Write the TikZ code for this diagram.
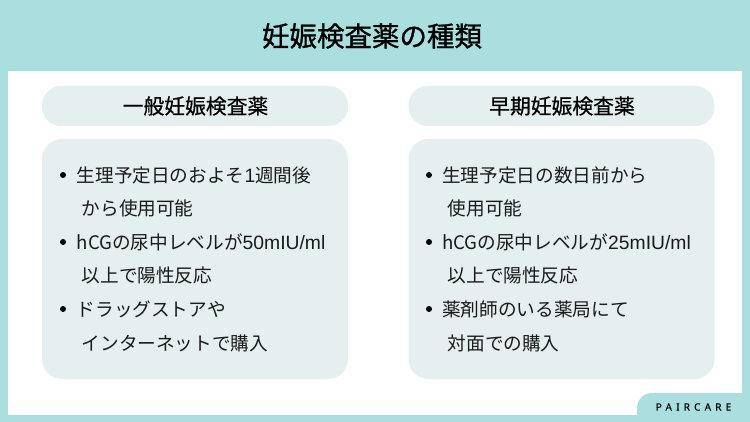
\documentclass[tikz,border=0pt]{standalone}
\usepackage{fontspec}
\setmainfont{Noto Sans CJK JP}
\newfontfamily\titlefont{Noto Sans CJK JP}[FakeBold=1.0]
\newfontfamily\headfont{Noto Sans CJK JP}[FakeBold=0.6]
\newfontfamily\brandfont{Noto Sans}[LetterSpace=42,FakeBold=0.5]
\newfontfamily\latinfont{Liberation Sans}[Scale=1.035]
\usetikzlibrary{positioning}
\definecolor{frametl}{HTML}{ABDEDF}
\definecolor{panelbg}{HTML}{E5EFF0}
\definecolor{inktext}{HTML}{1A1A1A}

\begin{document}
\begin{tikzpicture}[x=1pt,y=-1pt,
    pill/.style={fill=panelbg,rounded corners=19pt,minimum width=306pt,minimum height=40pt,inner sep=0pt},
    panel/.style={fill=panelbg,rounded corners=20pt,minimum width=306pt,minimum height=240pt,inner sep=0pt},
    head/.style={font=\headfont\fontsize{20.8}{24}\selectfont,text=black},
    ele/.style={anchor=base west,inner sep=0pt,font=\fontsize{18.65}{22}\selectfont,text=inktext},
    dot/.style={circle,fill=black,minimum size=6pt,inner sep=0pt}]
    \useasboundingbox (0,0) rectangle (750,422);
    \fill[frametl] (0,0) rectangle (750,422);
    \fill[white] (8,71) rectangle (742,415);
    \fill[frametl,rounded corners=15pt] (637,430) -- (637,393) -- (760,393) -- (760,430) -- cycle;
    \fill[frametl] (637,415) rectangle (750,422);
    \fill[frametl] (742,393) rectangle (750,415);

    \node[font=\titlefont\fontsize{27.5}{32}\selectfont,text=black] (title) at (372,36) {妊娠検査薬の種類};
    \node[font=\brandfont\fontsize{10}{12}\selectfont,text=black] (brand) at (693.5,407) {PAIRCARE};

    \node[pill] (lhead) at (195,106) {};
    \node[pill] (rhead) at (561.5,106) {};
    \node[head] (ltitle) at (195.5,106) {一般妊娠検査薬};
    \node[head] (rtitle) at (562,106) {早期妊娠検査薬};
    \node[panel] (lbody) at (195,259) {};
    \node[panel] (rbody) at (561.5,259) {};

    \node[dot] (ld0) at (63,175) {};
    \node[dot] (ld1) at (63,242) {};
    \node[dot] (ld2) at (63,309) {};
    \node[ele] (l0) at (76.5,182.5) {生理予定日のおよそ{\latinfont 1}週間後};
    \node[ele] (l1) at (81.5,216) {から使用可能};
    \node[ele] (l2) at (76.5,249.5) {hCGの尿中レベルが{\latinfont 50mIU/ml}};
    \node[ele] (l3) at (81.5,283) {以上で陽性反応};
    \node[ele] (l4) at (76.5,316.5) {ドラッグストアや};
    \node[ele] (l5) at (81.5,350) {インターネットで購入};

    \node[dot] (rd0) at (429,175) {};
    \node[dot] (rd1) at (429,242) {};
    \node[dot] (rd2) at (429,309) {};
    \node[ele] (r0) at (442,182.5) {生理予定日の数日前から};
    \node[ele] (r1) at (447.5,216) {使用可能};
    \node[ele] (r2) at (442,249.5) {hCGの尿中レベルが{\latinfont 25mIU/ml}};
    \node[ele] (r3) at (447.5,283) {以上で陽性反応};
    \node[ele] (r4) at (442,316.5) {薬剤師のいる薬局にて};
    \node[ele] (r5) at (447.5,350) {対面での購入};
\end{tikzpicture}
\end{document}
